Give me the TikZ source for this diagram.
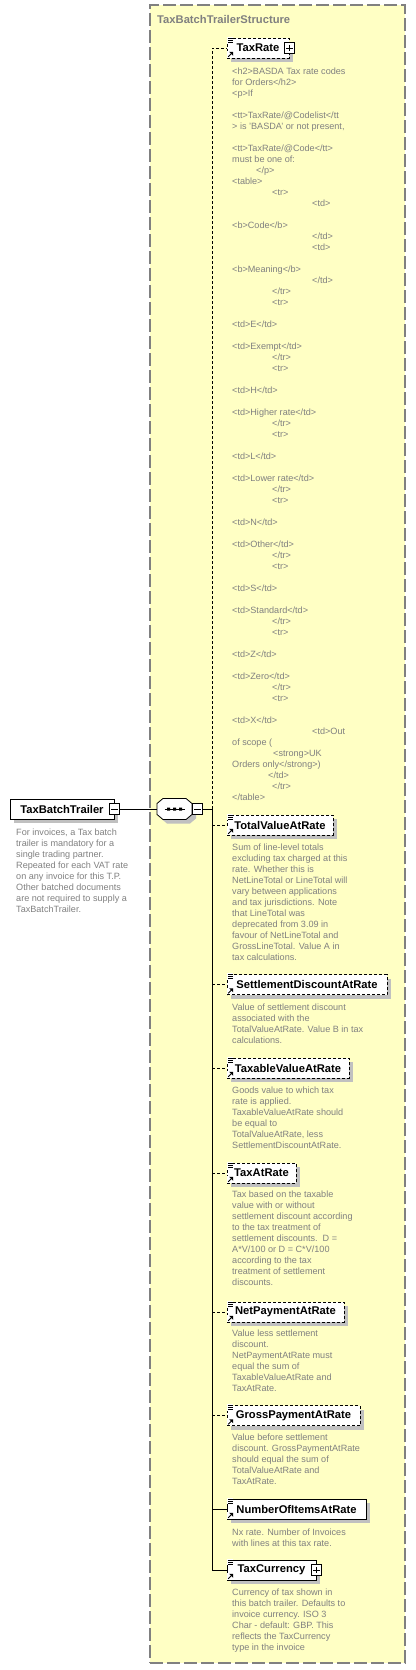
\documentclass[tikz,border=0pt]{standalone}
\usepackage{fontspec}
\setmainfont{Liberation Sans}
\usetikzlibrary{shadows}
\definecolor{bgyellow}{RGB}{255,255,196}
\definecolor{framegray}{RGB}{128,128,128}
\definecolor{docgray}{RGB}{128,128,128}
\definecolor{shadowgray}{RGB}{192,192,192}
\newcommand{\ind}[1]{\hspace*{#1pt}}
\newcommand{\sqt}{\symbol{39}}
\newcommand{\elicons}[1]{%
  \begin{scope}[shift={(#1.north west)}]
    \fill[white] (0.6,-0.8) rectangle (6.8,5.6);
    \draw[line width=0.7pt] (1.2,0.3) -- (6.2,0.3) (1.8,2.3) -- (6.2,2.3) (1.8,4.3) -- (6.2,4.3);
  \end{scope}
  \begin{scope}[shift={(#1.south west)}]
    \fill[white] (0.6,-7.4) rectangle (7.4,-0.6);
    \draw[line width=0.9pt] (1.6,-1.6) -- (5.2,-5.2);
    \fill (6.6,-6.6) -- (2.6,-6.6) -- (6.6,-2.6) -- cycle;
  \end{scope}}
\begin{document}
\begin{tikzpicture}[x=1pt,y=-1pt,
  labelfont/.style={font=\fontsize{11.2}{13}\selectfont\bfseries},
  elem/.style={draw, fill=white, line width=0.8pt, minimum height=20pt, inner sep=0pt, labelfont, text=black,
    drop shadow={shadow xshift=4pt, shadow yshift=-4pt, fill=shadowgray, opacity=1}},
  optelem/.style={elem, dash pattern=on 3pt off 2pt},
  doc/.style={anchor=north west, inner sep=0pt, align=left, text=docgray, font=\fontsize{9.1}{11}\selectfont},
  pmbox/.style={draw, fill=white, line width=0.8pt, minimum size=10.5pt, inner sep=0pt},
  minusbox/.style={pmbox, path picture={\draw[line width=0.8pt] ([xshift=2pt]path picture bounding box.west) -- ([xshift=-2pt]path picture bounding box.east);}},
  plusbox/.style={pmbox, path picture={\draw[line width=0.8pt] ([xshift=2pt]path picture bounding box.west) -- ([xshift=-2pt]path picture bounding box.east) ([yshift=-2pt]path picture bounding box.north) -- ([yshift=2pt]path picture bounding box.south);}},
  conn/.style={line width=0.8pt},
  optconn/.style={conn, dash pattern=on 3pt off 2pt},
  container/.style={draw=framegray, fill=bgyellow, line width=1.3pt, dash pattern=on 13pt off 4pt, inner sep=0pt},
]
\useasboundingbox (0,0) rectangle (415,1670);

% container
\node[container, minimum width=255pt, minimum height=1658pt] (struct) at (277.5,834) {};
\node[anchor=west, inner sep=0pt, text=framegray, labelfont] (structtitle) at (157,19) {TaxBatchTrailerStructure};

% main element
\node[elem, minimum width=104pt] (main) at (62,809) {TaxBatchTrailer};
\node[minusbox] (mainminus) at (main.east) {};
\node[doc] (maindoc) at (16,827.8) {\strut For invoices, a Tax batch\\
trailer is mandatory for a\\
single trading partner.\\
Repeated for each VAT rate\\
on any invoice for this T.P.\\
Other batched documents\\
are not required to supply a\\
TaxBatchTrailer.};

% sequence compositor
\node[minimum width=35pt, minimum height=21pt, inner sep=0pt] (seq) at (174.5,809) {};
\begin{scope}[shift={(seq.center)}]
  \fill[shadowgray] (-13.5,-1.5) -- (-7.5,-6.5) -- (15.5,-6.5) -- (21.5,-1.5) -- (21.5,9.5) -- (15.5,14.5) -- (-7.5,14.5) -- (-13.5,9.5) -- cycle;
  \draw[line width=0.8pt, fill=white] (-17.5,-5.5) -- (-11.5,-10.5) -- (11.5,-10.5) -- (17.5,-5.5) -- (17.5,5.5) -- (11.5,10.5) -- (-11.5,10.5) -- (-17.5,5.5) -- cycle;
  \draw[line width=0.9pt] (-10,0) -- (10,0);
  \fill (-7.5,-1.5) rectangle (-4.5,1.5) (-1.5,-1.5) rectangle (1.5,1.5) (4.5,-1.5) rectangle (7.5,1.5);
\end{scope}
\node[minusbox] (seqminus) at (197.5,809) {};
\coordinate (trunk) at (212,809);

% children
\node[optelem, minimum width=62pt] (taxrate) at (258,48) {TaxRate};
\node[plusbox] (taxrateplus) at (taxrate.east) {};
\node[optelem, minimum width=106pt] (total) at (280,825) {TotalValueAtRate};
\node[optelem, minimum width=160pt] (settle) at (307,984.5) {SettlementDiscountAtRate};
\node[optelem, minimum width=122pt] (taxable) at (288,1068) {TaxableValueAtRate};
\node[optelem, minimum width=69pt] (taxat) at (261.5,1173) {TaxAtRate};
\node[optelem, minimum width=117pt] (netpay) at (285.5,1312) {NetPaymentAtRate};
\node[optelem, minimum width=133pt] (gross) at (293.5,1415.5) {GrossPaymentAtRate};
\node[elem, minimum width=139pt] (number) at (296.5,1509) {NumberOfItemsAtRate};
\node[elem, minimum width=89pt] (currency) at (271.5,1570) {TaxCurrency};
\node[plusbox] (currencyplus) at (currency.east) {};

\foreach \n in {taxrate,total,settle,taxable,taxat,netpay,gross,number,currency}{\elicons{\n}}

% documentation
\node[doc] (taxratedoc) at (232,66.8) {\strut<h2>BASDA Tax rate codes\\
for Orders</h2>\\
<p>If\\
\mbox{}\\
<tt>TaxRate/@Codelist</tt\\
> is \sqt BASDA\sqt{} or not present,\\
\mbox{}\\
<tt>TaxRate/@Code</tt>\\
must be one of:\\
\ind{24}</p>\\
<table>\\
\ind{40}<tr>\\
\ind{80}<td>\\
\mbox{}\\
<b>Code</b>\\
\ind{80}</td>\\
\ind{80}<td>\\
\mbox{}\\
<b>Meaning</b>\\
\ind{80}</td>\\
\ind{40}</tr>\\
\ind{40}<tr>\\
\mbox{}\\
<td>E</td>\\
\mbox{}\\
<td>Exempt</td>\\
\ind{40}</tr>\\
\ind{40}<tr>\\
\mbox{}\\
<td>H</td>\\
\mbox{}\\
<td>Higher rate</td>\\
\ind{40}</tr>\\
\ind{40}<tr>\\
\mbox{}\\
<td>L</td>\\
\mbox{}\\
<td>Lower rate</td>\\
\ind{40}</tr>\\
\ind{40}<tr>\\
\mbox{}\\
<td>N</td>\\
\mbox{}\\
<td>Other</td>\\
\ind{40}</tr>\\
\ind{40}<tr>\\
\mbox{}\\
<td>S</td>\\
\mbox{}\\
<td>Standard</td>\\
\ind{40}</tr>\\
\ind{40}<tr>\\
\mbox{}\\
<td>Z</td>\\
\mbox{}\\
<td>Zero</td>\\
\ind{40}</tr>\\
\ind{40}<tr>\\
\mbox{}\\
<td>X</td>\\
\ind{80}<td>Out\\
of scope (\\
\ind{41}<strong>UK\\
Orders only</strong>)\\
\ind{36}</td>\\
\ind{40}</tr>\\
</table>};

\node[doc] (totaldoc) at (232,842.8) {\strut Sum of line-level totals\\
excluding tax charged at this\\
rate. Whether this is\\
NetLineTotal or LineTotal will\\
vary between applications\\
and tax jurisdictions. Note\\
that LineTotal was\\
deprecated from 3.09 in\\
favour of NetLineTotal and\\
GrossLineTotal. Value A in\\
tax calculations.};

\node[doc] (settledoc) at (232,1002.8) {\strut Value of settlement discount\\
associated with the\\
TotalValueAtRate. Value B in tax\\
calculations.};

\node[doc] (taxabledoc) at (232,1085.8) {\strut Goods value to which tax\\
rate is applied.\\
TaxableValueAtRate should\\
be equal to\\
TotalValueAtRate, less\\
SettlementDiscountAtRate.};

\node[doc] (taxatdoc) at (232,1189.8) {\strut Tax based on the taxable\\
value with or without\\
settlement discount according\\
to the tax treatment of\\
settlement discounts.\ \ D =\\
A*V/100 or D = C*V/100\\
according to the tax\\
treatment of settlement\\
discounts.};

\node[doc] (netpaydoc) at (232,1328.8) {\strut Value less settlement\\
discount.\\
NetPaymentAtRate must\\
equal the sum of\\
TaxableValueAtRate and\\
TaxAtRate.};

\node[doc] (grossdoc) at (232,1432.8) {\strut Value before settlement\\
discount. GrossPaymentAtRate\\
should equal the sum of\\
TotalValueAtRate and\\
TaxAtRate.};

\node[doc] (numberdoc) at (232,1527.8) {\strut Nx rate. Number of Invoices\\
with lines at this tax rate.};

\node[doc] (currencydoc) at (232,1587.8) {\strut Currency of tax shown in\\
this batch trailer. Defaults to\\
invoice currency. ISO 3\\
Char - default: GBP. This\\
reflects the TaxCurrency\\
type in the invoice};

% connectors
\draw[conn] (mainminus.east) -- (seq.west);
\draw[conn] (seqminus.east) -- (trunk);
\draw[optconn] (trunk) |- (taxrate.west);
\draw[conn] (trunk) |- (currency.west);
\draw[conn] (trunk |- number.west) -- (number.west);
\foreach \n in {total,settle,taxable,taxat,netpay,gross}{
  \draw[optconn] (trunk |- \n.west) -- (\n.west);
}
\end{tikzpicture}
\end{document}
